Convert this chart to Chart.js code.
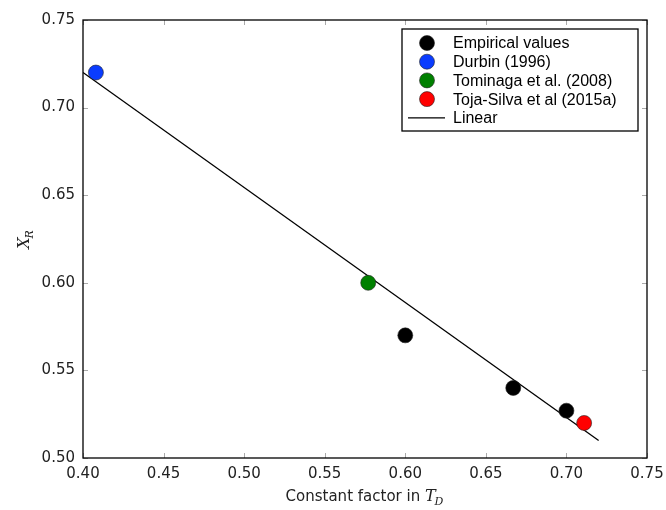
<!DOCTYPE html>
<html>
<head>
<meta charset="utf-8">
<script src="https://cdn.jsdelivr.net/npm/chart.js@4/dist/chart.umd.min.js"></script>
<style>
  html, body { margin: 0; padding: 0; background: #fff; }
  #wrap { width: 666px; height: 510px; }
</style>
</head>
<body>
<div id="wrap"><canvas id="xr"></canvas></div>
<script>
// data
var empX = [0.600, 0.667, 0.700];
var empY = [0.570, 0.540, 0.527];
var durbinX = [0.408];
var durbinY = [0.720];
var tominagaX = [0.577];
var tominagaY = [0.600];
var tojaX = [0.711];
var tojaY = [0.520];
var linearX = [0.400, 0.720];
var linearY = [0.720, 0.510];

var xTicks = [0.40, 0.45, 0.50, 0.55, 0.60, 0.65, 0.70, 0.75];
var yTicks = [0.50, 0.55, 0.60, 0.65, 0.70, 0.75];

var labels = ['Empirical values', 'Durbin (1996)', 'Tominaga et al. (2008)', 'Toja-Silva et al (2015a)', 'Linear'];
var colors = ['#000000', '#0a3cff', '#008000', '#ff0000', '#000000'];

function pts(xs, ys) {
	var out = [];
	for (var i = 0; i < xs.length; i++) out.push({ x: xs[i], y: ys[i] });
	return out;
}

function dotSet(i, xs, ys) {
	return {
		label: labels[i],
		data: pts(xs, ys),
		backgroundColor: colors[i],
		borderColor: '#222',
		borderWidth: 0.6,
		pointRadius: 7.5,
		pointHoverRadius: 7.5,
		order: 1,
	};
}

// pin the plot box to where it sits in the figure
var box = {
	id: 'box',
	afterLayout: function (chart) {
		var a = chart.chartArea;
		a.left = 83; a.right = 647; a.top = 20; a.bottom = 458;
		a.width = a.right - a.left; a.height = a.bottom - a.top;
		var xs = chart.scales.x, ys = chart.scales.y;
		xs.left = a.left; xs.right = a.right; xs.width = a.width;
		xs.top = a.bottom; xs.bottom = 510; xs.height = 510 - a.bottom;
		ys.top = a.top; ys.bottom = a.bottom; ys.height = a.height;
		ys.left = 0; ys.right = a.left; ys.width = a.left;
		xs.configure(); ys.configure();
	},
};

// inward ticks on all four sides, frame, legend box and axis titles
var decor = {
	id: 'decor',
	afterDatasetsDraw: function (chart) {
		var c = chart.ctx, a = chart.chartArea;
		var xs = chart.scales.x, ys = chart.scales.y;
		c.save();
		c.strokeStyle = '#aaa';
		c.lineWidth = 1;
		c.beginPath();
		xTicks.forEach(function (v) {
			var px = Math.round(xs.getPixelForValue(v)) + 0.5;
			c.moveTo(px, a.bottom); c.lineTo(px, a.bottom - 5);
			c.moveTo(px, a.top); c.lineTo(px, a.top + 5);
		});
		yTicks.forEach(function (v) {
			var py = Math.round(ys.getPixelForValue(v)) + 0.5;
			c.moveTo(a.left, py); c.lineTo(a.left + 5, py);
			c.moveTo(a.right, py); c.lineTo(a.right - 5, py);
		});
		c.stroke();
		c.strokeStyle = '#000';
		c.lineWidth = 1.3;
		c.strokeRect(a.left, a.top, a.right - a.left, a.bottom - a.top);

		// legend
		var lx = 402, ly = 29, lw = 236, lh = 102;
		c.fillStyle = '#fff';
		c.fillRect(lx, ly, lw, lh);
		c.lineWidth = 1.3;
		c.strokeStyle = '#000';
		c.strokeRect(lx, ly, lw, lh);
		c.font = '16px "Liberation Sans", Arial, sans-serif';
		c.textBaseline = 'middle';
		c.textAlign = 'left';
		for (var i = 0; i < labels.length; i++) {
			var ry = ly + 14 + i * 18.7;
			if (i < 4) {
				c.beginPath();
				c.arc(427, ry, 7.5, 0, Math.PI * 2);
				c.fillStyle = colors[i];
				c.fill();
				c.lineWidth = 0.6;
				c.strokeStyle = '#222';
				c.stroke();
			} else {
				c.beginPath();
				c.lineWidth = 1.3;
				c.strokeStyle = colors[i];
				c.moveTo(408, ry); c.lineTo(445, ry);
				c.stroke();
			}
			c.fillStyle = '#000';
			c.fillText(labels[i], 453, ry + 1);
		}

		// x title with italic T_D
		c.fillStyle = '#222';
		c.textBaseline = 'alphabetic';
		var t1 = 'Constant factor in ';
		c.font = 'italic 16px "DejaVu Serif", serif';
		var wT = c.measureText('T').width;
		c.font = 'italic 11px "DejaVu Serif", serif';
		var wD = c.measureText('D').width;
		c.font = '15px "DejaVu Sans", sans-serif';
		var w1 = c.measureText(t1).width;
		var cx = (a.left + a.right) / 2;
		var sx = cx - (w1 + wT + wD) / 2;
		var by = 501;
		c.fillText(t1, sx, by);
		c.font = 'italic 16px "DejaVu Serif", serif';
		c.fillText('T', sx + w1, by);
		c.font = 'italic 11px "DejaVu Serif", serif';
		c.fillText('D', sx + w1 + wT - 1, by + 4);

		// y title X_R rotated
		c.translate(24, (a.top + a.bottom) / 2);
		c.rotate(-Math.PI / 2);
		c.font = 'italic 16px "DejaVu Serif", serif';
		var wX = c.measureText('X').width;
		c.font = 'italic 11px "DejaVu Serif", serif';
		var wR = c.measureText('R').width;
		var ox = -(wX + wR) / 2;
		c.font = 'italic 16px "DejaVu Serif", serif';
		c.fillText('X', ox, 5);
		c.font = 'italic 11px "DejaVu Serif", serif';
		c.fillText('R', ox + wX - 1, 9);
		c.restore();
	},
};

var ctx = document.getElementById('xr').getContext('2d');
var chart = new Chart(ctx, {
	type: 'scatter',
	data: {
		datasets: [
			dotSet(0, empX, empY),
			dotSet(1, durbinX, durbinY),
			dotSet(2, tominagaX, tominagaY),
			dotSet(3, tojaX, tojaY),
			{
				label: labels[4],
				data: pts(linearX, linearY),
				showLine: true,
				borderColor: colors[4],
				borderWidth: 1.3,
				pointRadius: 0,
				pointHoverRadius: 0,
				fill: false,
				order: 10,
			},
		],
	},
	options: {
		responsive: true,
		maintainAspectRatio: false,
		animation: false,
		layout: { padding: { top: 20, right: 19, left: 0, bottom: 0 } },
		plugins: { legend: { display: false }, tooltip: { enabled: false } },
		scales: {
			x: {
				type: 'linear',
				min: 0.40,
				max: 0.75,
				afterBuildTicks: function (s) { s.ticks = xTicks.map(function (v) { return { value: v }; }); },
				grid: { display: false, drawTicks: false },
				border: { display: false },
				ticks: {
					padding: 7,
					color: '#222',
					font: { family: '"DejaVu Sans", sans-serif', size: 15 },
					maxRotation: 0,
					callback: function (v) { return v.toFixed(2); },
				},
			},
			y: {
				type: 'linear',
				min: 0.50,
				max: 0.75,
				afterBuildTicks: function (s) { s.ticks = yTicks.map(function (v) { return { value: v }; }); },
				grid: { display: false, drawTicks: false },
				border: { display: false },
				ticks: {
					padding: 8,
					color: '#222',
					font: { family: '"DejaVu Sans", sans-serif', size: 15 },
					callback: function (v) { return v.toFixed(2); },
				},
			},
		},
	},
	plugins: [box, decor],
});
</script>
</body>
</html>
